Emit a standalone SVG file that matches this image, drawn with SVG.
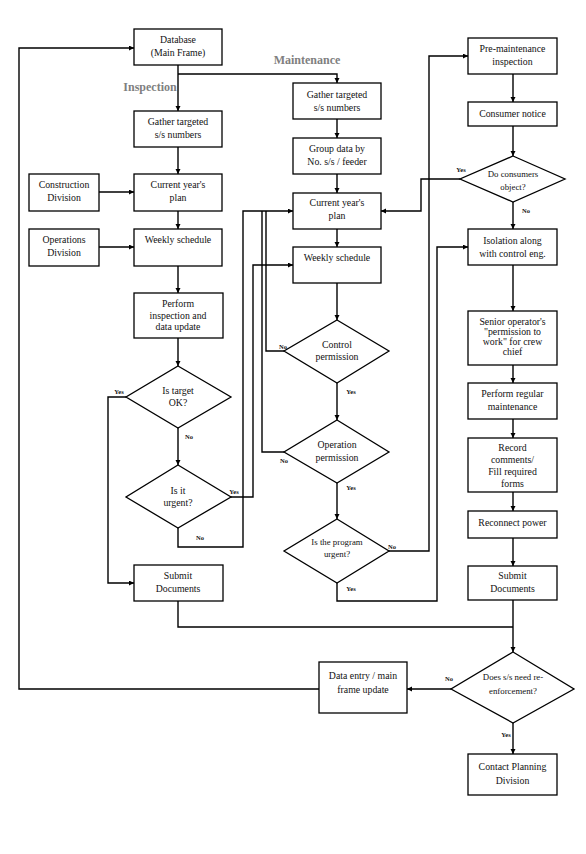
<svg xmlns="http://www.w3.org/2000/svg" width="586" height="854" viewBox="0 0 586 854" font-family="'Liberation Serif', Tinos, 'Times New Roman', 'DejaVu Serif', serif">
<style>
text{font-family:'Liberation Serif', Tinos, 'Times New Roman', 'DejaVu Serif', serif}
.box{fill:#fff;stroke:#000;stroke-width:1.3}
.t{font-size:9.8px;fill:#111;text-anchor:middle}
.ts{font-size:8.8px;fill:#111;text-anchor:middle}
.lb{font-size:6.5px;font-weight:bold;fill:#111;text-anchor:middle}
.hd{font-size:12px;font-weight:bold;fill:#808080;text-anchor:middle}
.c{fill:none;stroke:#000;stroke-width:1.4}
</style>
<defs>
<marker id="ar" markerUnits="userSpaceOnUse" markerWidth="6" markerHeight="6" refX="5" refY="2.5" orient="auto">
<path d="M0,0 L5,2.5 L0,5 Z" fill="#000"/>
</marker>
</defs>
<rect width="586" height="854" fill="#fff"/>

<text class="hd" x="150" y="91">Inspection</text>
<text class="hd" x="307" y="64">Maintenance</text>

<g id="connectors">
<polyline class="c" points="178,65 178,111" marker-end="url(#ar)"/>
<polyline class="c" points="178,74 337,74 337,83" marker-end="url(#ar)"/>
<polyline class="c" points="178,147 178,174" marker-end="url(#ar)"/>
<polyline class="c" points="99,192 134,192" marker-end="url(#ar)"/>
<polyline class="c" points="178,211 178,229" marker-end="url(#ar)"/>
<polyline class="c" points="99,247 134,247" marker-end="url(#ar)"/>
<polyline class="c" points="178,266 178,293" marker-end="url(#ar)"/>
<polyline class="c" points="178,338 178,366" marker-end="url(#ar)"/>
<polyline class="c" points="126,397 108,397 108,583 134,583" marker-end="url(#ar)"/>
<polyline class="c" points="178,428 178,465" marker-end="url(#ar)"/>
<polyline class="c" points="231,497 253,497 253,265 293,265" marker-end="url(#ar)"/>
<polyline class="c" points="178,528 178,547 243,547 243,211 293,211" marker-end="url(#ar)"/>
<polyline class="c" points="178,601 178,627 513,627"/>
<polyline class="c" points="337,119 337,138" marker-end="url(#ar)"/>
<polyline class="c" points="337,174 337,193" marker-end="url(#ar)"/>
<polyline class="c" points="337,229 337,247" marker-end="url(#ar)"/>
<polyline class="c" points="337,283 337,320" marker-end="url(#ar)"/>
<polyline class="c" points="284,351 266,351 266,211"/>
<polyline class="c" points="337,383 337,420" marker-end="url(#ar)"/>
<polyline class="c" points="284,452 262,452 262,211"/>
<polyline class="c" points="337,483 337,519" marker-end="url(#ar)"/>
<polyline class="c" points="389,551 429,551 429,56 468,56" marker-end="url(#ar)"/>
<polyline class="c" points="337,583 337,601 437,601 437,247 468,247" marker-end="url(#ar)"/>
<polyline class="c" points="513,74 513,102" marker-end="url(#ar)"/>
<polyline class="c" points="513,126 513,156" marker-end="url(#ar)"/>
<polyline class="c" points="460,179 421,179 421,211 381,211" marker-end="url(#ar)"/>
<polyline class="c" points="513,202 513,229" marker-end="url(#ar)"/>
<polyline class="c" points="513,265 513,311" marker-end="url(#ar)"/>
<polyline class="c" points="513,365 513,383" marker-end="url(#ar)"/>
<polyline class="c" points="513,419 513,438" marker-end="url(#ar)"/>
<polyline class="c" points="513,492 513,511" marker-end="url(#ar)"/>
<polyline class="c" points="513,538 513,566" marker-end="url(#ar)"/>
<polyline class="c" points="513,600 513,652" marker-end="url(#ar)"/>
<polyline class="c" points="451,689 407,689" marker-end="url(#ar)"/>
<polyline class="c" points="513,723 513,754" marker-end="url(#ar)"/>
<polyline class="c" points="319,689 19,689 19,48 134,48" marker-end="url(#ar)"/>

<text class="lb" x="119" y="394">Yes</text>
<text class="lb" x="189" y="439">No</text>
<text class="lb" x="234" y="494">Yes</text>
<text class="lb" x="200" y="540">No</text>
<text class="lb" x="283" y="349">No</text>
<text class="lb" x="351" y="394">Yes</text>
<text class="lb" x="284" y="463">No</text>
<text class="lb" x="351" y="490">Yes</text>
<text class="lb" x="392" y="549">No</text>
<text class="lb" x="351" y="591">Yes</text>
<text class="lb" x="461" y="172">Yes</text>
<text class="lb" x="526" y="213">No</text>
<text class="lb" x="449" y="681">No</text>
<text class="lb" x="506" y="737">Yes</text>
</g>

<g id="database"><rect class="box" x="134" y="29" width="88" height="36"/><text class="t" x="178" y="42.5">Database</text><text class="t" x="178" y="55.5">(Main Frame)</text></g>
<g id="gather-insp"><rect class="box" x="134" y="111" width="88" height="36"/><text class="t" x="178" y="124.5">Gather targeted</text><text class="t" x="178" y="137.5">s/s numbers</text></g>
<g id="plan-insp"><rect class="box" x="134" y="174" width="88" height="37"/><text class="t" x="178" y="187.5">Current year's</text><text class="t" x="178" y="200.5">plan</text></g>
<g id="construction"><rect class="box" x="29" y="174" width="70" height="37"/><text class="t" x="64" y="187.5">Construction</text><text class="t" x="64" y="200.5">Division</text></g>
<g id="weekly-insp"><rect class="box" x="134" y="229" width="88" height="37"/><text class="t" x="178" y="242.5">Weekly schedule</text></g>
<g id="operations"><rect class="box" x="29" y="229" width="70" height="37"/><text class="t" x="64" y="242.5">Operations</text><text class="t" x="64" y="255.5">Division</text></g>
<g id="perform-insp"><rect class="box" x="134" y="293" width="89" height="45"/><text class="t" x="178" y="306.5">Perform</text><text class="t" x="178" y="318.5">inspection and</text><text class="t" x="178" y="329.5">data update</text></g>
<g id="target-ok"><polygon class="box" points="178,366 231,397 178,428 126,397"/><text class="t" x="178" y="393.5">Is target</text><text class="t" x="178" y="405.5">OK?</text></g>
<g id="urgent-insp"><polygon class="box" points="178,465 231,497 178,528 126,497"/><text class="t" x="178" y="493.5">Is it</text><text class="t" x="178" y="505.5">urgent?</text></g>
<g id="submit-insp"><rect class="box" x="134" y="565" width="89" height="36"/><text class="t" x="178" y="578.5">Submit</text><text class="t" x="178" y="591.5">Documents</text></g>

<g id="gather-maint"><rect class="box" x="293" y="83" width="88" height="36"/><text class="t" x="337" y="97.5">Gather targeted</text><text class="t" x="337" y="110.5">s/s numbers</text></g>
<g id="group-data"><rect class="box" x="293" y="138" width="88" height="36"/><text class="t" x="337" y="151.5">Group data by</text><text class="t" x="337" y="164.5">No. s/s / feeder</text></g>
<g id="plan-maint"><rect class="box" x="293" y="193" width="88" height="36"/><text class="t" x="337" y="205.5">Current year's</text><text class="t" x="337" y="218.5">plan</text></g>
<g id="weekly-maint"><rect class="box" x="293" y="247" width="88" height="36"/><text class="t" x="337" y="260.5">Weekly schedule</text></g>
<g id="control"><polygon class="box" points="337,320 389,351 337,383 284,351"/><text class="t" x="337" y="347.5">Control</text><text class="t" x="337" y="359.5">permission</text></g>
<g id="operation"><polygon class="box" points="337,420 389,452 337,483 284,452"/><text class="t" x="337" y="447.5">Operation</text><text class="t" x="337" y="460.5">permission</text></g>
<g id="program-urgent"><polygon class="box" points="337,519 389,551 337,583 284,551"/><text class="ts" x="337" y="544.5">Is the program</text><text class="ts" x="337" y="556.5">urgent?</text></g>

<g id="pre-maint"><rect class="box" x="468" y="38" width="89" height="36"/><text class="t" x="512.5" y="51.5">Pre-maintenance</text><text class="t" x="512.5" y="65">inspection</text></g>
<g id="consumer-notice"><rect class="box" x="468" y="102" width="89" height="24"/><text class="t" x="512.5" y="117">Consumer notice</text></g>
<g id="consumers-object"><polygon class="box" points="513,156 565,179 513,202 460,179"/><text class="ts" x="513" y="176.5">Do consumers</text><text class="ts" x="513" y="190">object?</text></g>
<g id="isolation"><rect class="box" x="468" y="229" width="89" height="36"/><text class="t" x="512.5" y="243.5">Isolation along</text><text class="t" x="512.5" y="256.5">with control eng.</text></g>
<g id="senior"><rect class="box" x="468" y="311" width="89" height="54"/><text class="t" x="512.5" y="324.5">Senior operator's</text><text class="t" x="512.5" y="334.5">"permission to</text><text class="t" x="512.5" y="345">work"  for crew</text><text class="t" x="512.5" y="354.5">chief</text></g>
<g id="perform-maint"><rect class="box" x="468" y="383" width="89" height="36"/><text class="t" x="512.5" y="396.5">Perform regular</text><text class="t" x="512.5" y="409.5">maintenance</text></g>
<g id="record"><rect class="box" x="468" y="438" width="89" height="54"/><text class="t" x="512.5" y="450.5">Record</text><text class="t" x="512.5" y="463">comments/</text><text class="t" x="512.5" y="475">Fill required</text><text class="t" x="512.5" y="486.5">forms</text></g>
<g id="reconnect"><rect class="box" x="468" y="511" width="89" height="27"/><text class="t" x="512.5" y="525.5">Reconnect power</text></g>
<g id="submit-maint"><rect class="box" x="468" y="566" width="89" height="34"/><text class="t" x="512.5" y="578.5">Submit</text><text class="t" x="512.5" y="591.5">Documents</text></g>
<g id="reinforcement"><polygon class="box" points="513,652 574,689 513,723 451,689"/><text class="ts" x="513" y="680">Does s/s need re-</text><text class="ts" x="513" y="694">enforcement?</text></g>
<g id="data-entry"><rect class="box" x="319" y="662" width="88" height="51"/><text class="t" x="363" y="678.5">Data entry / main</text><text class="t" x="363" y="693">frame update</text></g>
<g id="contact-planning"><rect class="box" x="468" y="754" width="89" height="41"/><text class="t" x="512.5" y="769.5">Contact Planning</text><text class="t" x="512.5" y="783.5">Division</text></g>
</svg>
